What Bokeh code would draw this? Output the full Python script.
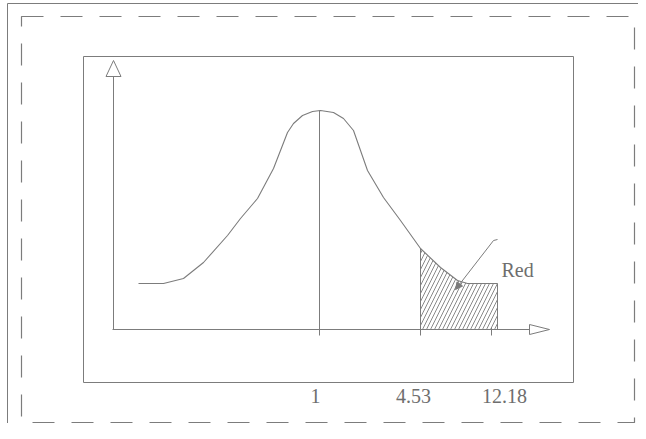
import numpy as np
from bokeh.plotting import figure
from bokeh.models import Range1d, Arrow, NormalHead
from bokeh.core.properties import value
from bokeh.embed import file_html
from bokeh.resources import INLINE

# ---- data (diagram units: origin at axis intersection) ----
curve_x = [25, 50, 70, 90, 114, 127, 144, 160, 174, 180, 189, 199, 207, 220, 230,
           240, 247, 254, 270, 287, 307, 327, 344, 354, 384]
curve_y = [46, 46, 51, 67, 94, 111, 131, 161, 197, 206, 214, 218, 219, 217, 211,
           199, 179, 159, 132, 109, 81, 62, 49, 46, 46]
peak_x = 206
region_start = 307
region_end = 384
tick_x = [307, 378]
label_x = [202, 300, 391]
tick_labels = ["1", "4.53", "12.18"]
annot_text = "Red"

GRAY = "#7c7c7c"
TEXT = "#6e6e6e"

p = figure(width=638, height=423, x_range=Range1d(-113, 525), y_range=Range1d(-94, 329),
           output_backend="svg", toolbar_location=None, min_border=0)
p.axis.visible = False
p.grid.visible = False
p.outline_line_color = None
p.background_fill_color = "white"
p.border_fill_color = "white"

# frames
p.line([-106, -106, 540], [-110, 326, 326], line_color=GRAY, line_width=1)
p.quad(left=[-92], right=[521], bottom=[-93], top=[313], fill_color=None,
       line_color=GRAY, line_width=1.2, line_dash="22 17")
p.quad(left=[-30], right=[460], bottom=[-53], top=[273], fill_color=None,
       line_color=GRAY, line_width=1)

# axes
x_tip, x_len, x_half = 436, 20, 5
y_tip, y_len, y_half = 269, 16, 7.5
p.line([-1, x_tip - x_len], [0, 0], line_color=GRAY, line_width=1)
p.patch([x_tip - x_len, x_tip, x_tip - x_len], [x_half, 0, -x_half],
        fill_color="white", line_color=GRAY, line_width=1)
p.line([0, 0], [0, y_tip - y_len], line_color=GRAY, line_width=1)
p.patch([-y_half, 0, y_half], [y_tip - y_len, y_tip, y_tip - y_len],
        fill_color="white", line_color=GRAY, line_width=1)

# hatched region under the curve
cx = np.array(curve_x, dtype=float)
cy = np.array(curve_y, dtype=float)
m = (cx >= region_start) & (cx <= region_end)
hx = [region_start] + list(cx[m]) + [region_end]
hy = [0] + list(cy[m]) + [0]
p.patch(hx, hy, fill_alpha=0, line_color=None, hatch_pattern="/",
        hatch_scale=8, hatch_color=GRAY, hatch_weight=0.9)
p.line([region_start, region_start], [0, float(cy[cx == region_start][0])],
       line_color=GRAY, line_width=1)
p.line([region_end, region_end], [0, 46], line_color=GRAY, line_width=1)

# curve
p.line(curve_x, curve_y, line_color=GRAY, line_width=1.1)

# peak vertical line
p.line([peak_x, peak_x], [-6, max(curve_y)], line_color=GRAY, line_width=1)

# ticks
for tx in tick_x:
    p.line([tx, tx], [-6, 2], line_color=GRAY, line_width=1)

# tick labels
p.text(x=label_x, y=[-66] * 3, text=tick_labels, text_align="center",
       text_baseline="alphabetic", text_font=value("Liberation Serif"),
       text_font_size="20px", text_color=TEXT)

# annotation
p.text(x=[388], y=[60], text=[annot_text], text_align="left",
       text_baseline="alphabetic", text_font=value("Liberation Serif"),
       text_font_size="20px", text_color=TEXT)
p.line([384, 380], [90, 89], line_color=GRAY, line_width=1)
p.add_layout(Arrow(x_start=380, y_start=89, x_end=342, y_end=40,
                   line_color=GRAY, line_width=1,
                   end=NormalHead(size=7, fill_color=GRAY, line_color=GRAY)))

open("out.html", "w").write(file_html(p, INLINE))
